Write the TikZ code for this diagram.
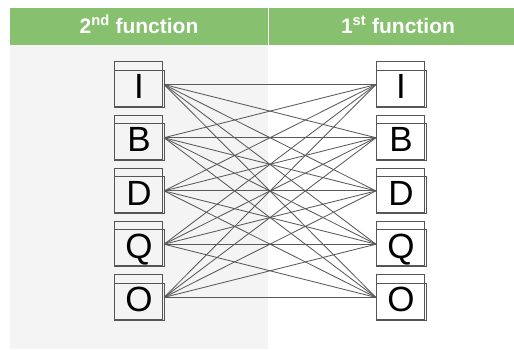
\documentclass[tikz,border=0pt]{standalone}
\usepackage{fontspec}
\setmainfont{Liberation Sans}
\definecolor{hdrgreen}{HTML}{87C06F}
\definecolor{panelgray}{HTML}{F4F4F4}
\definecolor{boxline}{HTML}{555555}
\definecolor{linkgray}{HTML}{5A5A5A}
\tikzset{
  letterbox/.style={inner sep=0pt, minimum width=49.7pt, minimum height=45pt,
    text height=28.4pt, text depth=0pt, font=\fontsize{35}{35}\selectfont},
  boxedge/.style={draw=boxline, line width=0.9pt},
  link/.style={draw=linkgray, line width=0.85pt},
  hdrtext/.style={text=white, anchor=base, font=\fontsize{21}{21}\selectfont\bfseries}
}
\begin{document}
\begin{tikzpicture}[x=1pt,y=-1pt]
\useasboundingbox (0,0) rectangle (514,349);
% panels
\fill[panelgray] (10,45) rectangle (268,349);
\fill[hdrgreen] (10,7.5) rectangle (514,45);
\draw[white, line width=1pt] (268,7.5) -- (268,45);
\node[hdrtext] (h2) at (139,33.3) {2\textsuperscript{nd} function};
\node[hdrtext] (h1) at (398,33.3) {1\textsuperscript{st} function};
% boxes
\foreach \k/\t/\yc in {1/I/84.5, 2/B/137.7, 3/D/190.9, 4/Q/244.2, 5/O/297.4} {
  \node[letterbox] (L\k) at (139,\yc) {\t};
  \node[letterbox] (R\k) at (401,\yc) {\t};
  \foreach \s in {L,R} {
    \draw[boxedge] ([xshift=0.4pt]\s\k.north west) rectangle ([xshift=-1.7pt,yshift=1pt]\s\k.south east);
    \draw[boxedge] ([yshift=-8.4pt]\s\k.north west) rectangle (\s\k.south east);
  }
}
% connectors
\foreach \i in {1,...,5} {
  \foreach \j in {1,...,5} {
    \draw[link] (L\i.east) -- (R\j.west);
  }
}
\end{tikzpicture}
\end{document}
